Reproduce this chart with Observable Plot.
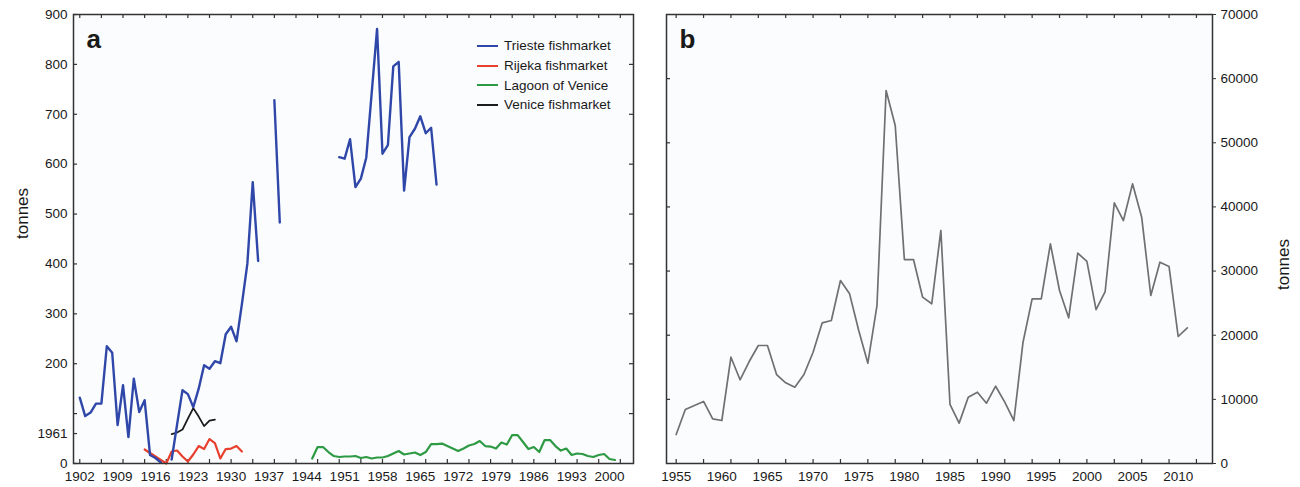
<!DOCTYPE html>
<html>
<head>
<meta charset="utf-8">
<script src="https://cdn.jsdelivr.net/npm/d3@7"></script>
<script src="https://cdn.jsdelivr.net/npm/@observablehq/plot@0.6"></script>
<style>
  html, body { margin: 0; padding: 0; background: #fff; }
  #wrap { position: relative; width: 1300px; height: 487px; font-family: "Liberation Sans", Arial, sans-serif; }
  #left, #right { position: absolute; top: 0; }
  #left { left: 0; } #right { left: 650px; }
  #legend { position: absolute; left: 477px; top: 36px; font-size: 13.5px; color: #1a1a1a; }
  #legend .row { height: 19.7px; display: flex; align-items: center; }
  #legend svg { margin-right: 6px; display: block; }
</style>
</head>
<body>
<div id="wrap">
  <div id="left"></div>
  <div id="right"></div>
  <div id="legend"></div>
</div>
<script>
// ---------- Panel a data ----------
const triesteYears = [
  1902,1903,1904,1905,1906,1907,1908,1909,1910,1911,1912,1913,1914,1915,1916,1917,1918,1919,1920,
  1921,1922,1923,1924,1925,1926,1927,1928,1929,1930,1931,1932,1933,1934,1935,1936,1937,1938,1939,1940,
  1950,1951,1952,1953,1954,1955,1956,1957,1958,1959,1960,1961,1962,1963,1964,1965,1966,1967,1968];
const triesteTonnes = [
  132,95,102,120,120,235,222,77,157,53,170,103,127,17,11,2,null,8,78,
  147,139,113,150,197,190,205,201,259,274,245,320,400,564,406,null,null,728,483,null,
  614,611,650,554,571,613,742,871,621,638,796,805,547,654,671,696,662,673,559];

const rijekaYears = [1914,1915,1916,1917,1918,1919,1920,1921,1922,1923,1924,1925,1926,1927,1928,1929,1930,1931,1932];
const rijekaTonnes = [28,21,14,7,0,24,26,14,4,18,35,29,49,41,10,29,30,35,24];

const veniceMarketYears = [1919,1920,1921,1922,1923,1924,1925,1926,1927];
const veniceMarketTonnes = [59,62,68,90,111,94,75,86,88];

const lagoonYears = [
  1945,1946,1947,1948,1949,1950,1951,1952,1953,1954,1955,1956,1957,1958,1959,1960,1961,1962,1963,
  1964,1965,1966,1967,1968,1969,1970,1971,1972,1973,1974,1975,1976,1977,1978,1979,1980,1981,1982,
  1983,1984,1985,1986,1987,1988,1989,1990,1991,1992,1993,1994,1995,1996,1997,1998,1999,2000,2001];
const lagoonTonnes = [
  10,33,33,23,15,13,14,14,15,11,13,10,12,12,15,20,25,18,20,
  22,17,23,39,39,40,35,30,25,30,36,39,45,35,34,30,42,38,57,
  57,43,29,33,23,47,47,35,26,30,17,20,19,15,13,17,19,9,7];

const aXLabels = [1902,1909,1916,1923,1930,1937,1944,1951,1958,1965,1972,1979,1986,1993,2000];
const aXTicks = [1902,1906,1910,1914,1918,1922,1926,1930,1934,1938,1942,1946,1950,1954,1958,1962,1966,1970,1974,1978,1982,1986,1990,1994,1998,2002];
const aYTicks = [0,60,100,200,300,400,500,600,700,800,900];
const aYLabels = ["0","1961","","200","300","400","500","600","700","800","900"];
const aYTicksRight = [100,200,300,400,500,600,700,800];

const seriesNames = ["Trieste fishmarket","Rijeka fishmarket","Lagoon of Venice","Venice fishmarket"];
const seriesColors = ["#2f47a8","#e8402e","#2e9a44","#1c1c1c"];

// ---------- Panel b data ----------
const bYears = [
  1955,1956,1957,1958,1959,1960,1961,1962,1963,1964,1965,1966,1967,1968,1969,1970,1971,1972,1973,
  1974,1975,1976,1977,1978,1979,1980,1981,1982,1983,1984,1985,1986,1987,1988,1989,1990,1991,1992,
  1993,1994,1995,1996,1997,1998,1999,2000,2001,2002,2003,2004,2005,2006,2007,2008,2009,2010,2011];
const bTonnes = [
  4520,8420,9040,9670,6960,6700,16570,13050,15900,18400,18400,13870,12580,11900,13870,17350,21930,22300,28530,
  26450,20730,15640,24630,58150,52700,31800,31800,25930,24900,36330,9200,6290,10340,11120,9400,12050,9560,6700,
  18910,25670,25670,34250,26970,22710,32790,31500,24000,26810,40640,37880,43600,38400,26190,31380,30710,19800,21150];
const bXLabels = [1955,1960,1965,1970,1975,1980,1985,1990,1995,2000,2005,2010];
const bXTicks = [1955,1958,1961,1964,1967,1970,1973,1976,1979,1982,1985,1988,1991,1994,1997,2000,2003,2006,2009,2012];
const bYTicks = [0,10000,20000,30000,40000,50000,60000,70000];
const bYInner = [10000,20000,30000,40000,50000,60000];

// ---------- helpers ----------
const font = "'Liberation Sans', Arial, sans-serif";
const toRows = (years, vals) => years.map((x, i) => ({x, y: vals[i]}));
const H = 487, MT = 14, MB = 24, FH = H - MT - MB;
const TL = 4; // inner tick length
const ink = "#1a1a1a";

// ---------- Panel a ----------
const aML = 73, aMR = 17, aW = 650, aFW = aW - aML - aMR;
const aLabelMap = new Map(aYTicks.map((v, i) => [v, aYLabels[i]]));
const left = Plot.plot({
  width: aW, height: H,
  marginLeft: aML, marginRight: aMR, marginTop: MT, marginBottom: MB,
  style: {fontFamily: font, fontSize: "13.5px", color: ink, background: "transparent", overflow: "visible"},
  x: {domain: [1900.84, 2004.44]},
  y: {domain: [0, 900]},
  marks: [
    Plot.frame({fill: "#fbfcfe", stroke: "none"}),
    Plot.axisX({ticks: aXLabels, tickSize: 0, tickPadding: 8, tickFormat: d => String(d), label: null, fontSize: 13.5}),
    Plot.axisY({ticks: aYTicks, tickSize: 0, tickPadding: 6, tickFormat: d => aLabelMap.get(d), label: null, fontSize: 13.5}),
    Plot.ruleX(aXTicks, {x: d => d, insetTop: FH - TL, stroke: "#333", strokeWidth: 1.2}),
    Plot.ruleX(aXTicks, {x: d => d, insetBottom: FH - TL, stroke: "#333", strokeWidth: 1.2}),
    Plot.ruleY(aYTicks, {y: d => d, insetRight: aFW - TL, stroke: "#333", strokeWidth: 1.2}),
    Plot.ruleY(aYTicksRight, {y: d => d, insetLeft: aFW - TL, stroke: "#333", strokeWidth: 1.2}),
    Plot.line(toRows(lagoonYears, lagoonTonnes), {x: "x", y: "y", stroke: seriesColors[2], strokeWidth: 2.2}),
    Plot.line(toRows(rijekaYears, rijekaTonnes), {x: "x", y: "y", stroke: seriesColors[1], strokeWidth: 2.2}),
    Plot.line(toRows(veniceMarketYears, veniceMarketTonnes), {x: "x", y: "y", stroke: seriesColors[3], strokeWidth: 1.8}),
    Plot.line(toRows(triesteYears, triesteTonnes), {x: "x", y: "y", stroke: seriesColors[0], strokeWidth: 2.4}),
    Plot.frame({stroke: "#333", strokeWidth: 1.5}),
    Plot.text(["tonnes"], {text: d => d, frameAnchor: "left", rotate: -90, dx: -51, fontSize: 17, fill: ink}),
    Plot.text(["a"], {text: d => d, frameAnchor: "top-left", textAnchor: "start", lineAnchor: "middle", dx: 13, dy: 25, fontSize: 26, fontWeight: "bold", fill: ink})
  ]
});
document.getElementById("left").append(left);

// ---------- Panel b ----------
const bML = 16, bMR = 88, bW = 650, bFW = bW - bML - bMR;
const right = Plot.plot({
  width: bW, height: H,
  marginLeft: bML, marginRight: bMR, marginTop: MT, marginBottom: MB,
  style: {fontFamily: font, fontSize: "13.5px", color: ink, background: "transparent", overflow: "visible"},
  x: {domain: [1953.94, 2013.76]},
  y: {domain: [0, 70000]},
  marks: [
    Plot.frame({fill: "#fbfcfe", stroke: "none"}),
    Plot.axisX({ticks: bXLabels, tickSize: 0, tickPadding: 8, tickFormat: d => String(d), label: null, fontSize: 13.5}),
    Plot.axisY({anchor: "right", ticks: bYTicks, tickSize: 3, tickPadding: 5, tickFormat: d => String(d), label: null, fontSize: 13.5, stroke: "#333"}),
    Plot.ruleX(bXTicks, {x: d => d, insetTop: FH - TL, stroke: "#333", strokeWidth: 1.2}),
    Plot.ruleX(bXTicks, {x: d => d, insetBottom: FH - TL, stroke: "#333", strokeWidth: 1.2}),
    Plot.ruleY(bYInner, {y: d => d, insetRight: bFW - TL, stroke: "#333", strokeWidth: 1.2}),
    Plot.line(toRows(bYears, bTonnes), {x: "x", y: "y", stroke: "#707070", strokeWidth: 1.7}),
    Plot.frame({stroke: "#333", strokeWidth: 1.5}),
    Plot.text(["tonnes"], {text: d => d, frameAnchor: "right", rotate: -90, dx: 71, fontSize: 17, fill: ink}),
    Plot.text(["b"], {text: d => d, frameAnchor: "top-left", textAnchor: "start", lineAnchor: "middle", dx: 13, dy: 25, fontSize: 26, fontWeight: "bold", fill: ink})
  ]
});
document.getElementById("right").append(right);

// ---------- Legend ----------
const lg = document.getElementById("legend");
const NS = "http://www.w3.org/2000/svg";
seriesNames.forEach((n, i) => {
  const row = document.createElement("div");
  row.className = "row";
  const svg = document.createElementNS(NS, "svg");
  svg.setAttribute("width", "21");
  svg.setAttribute("height", "6");
  const ln = document.createElementNS(NS, "line");
  ln.setAttribute("x1", "0"); ln.setAttribute("x2", "21");
  ln.setAttribute("y1", "3"); ln.setAttribute("y2", "3");
  ln.setAttribute("stroke", seriesColors[i]);
  ln.setAttribute("stroke-width", "2");
  svg.append(ln);
  const t = document.createElement("span");
  t.textContent = n;
  row.append(svg, t);
  lg.append(row);
});
</script>
</body>
</html>
